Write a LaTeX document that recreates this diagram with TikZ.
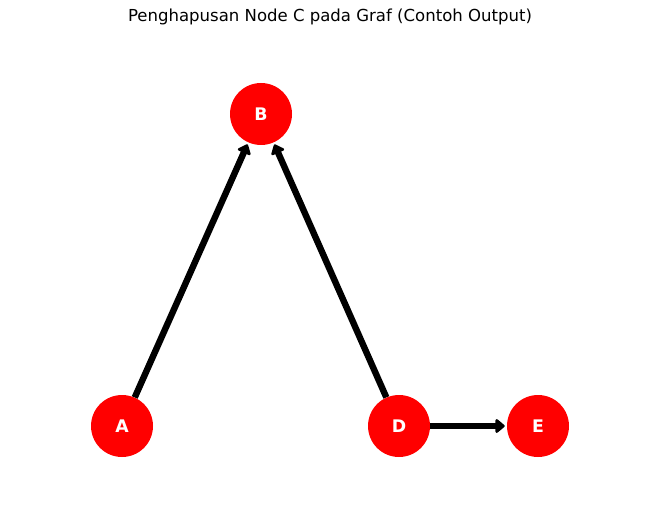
\documentclass[tikz,border=0pt]{standalone}
\usepackage{fontspec}
\setmainfont{DejaVu Sans}
\usepackage{xcolor}
\usetikzlibrary{arrows.meta}

\tikzset{
  vertex/.style = {circle, fill = red, minimum size = 46.5pt, inner sep = 0pt,
                   text = white, font = \bfseries\fontsize{13}{15}\selectfont},
  edge/.style = {line width = 4.8pt, -{Triangle[round, length = 7.5pt, width = 12pt]},
                 shorten > = 1.5pt}
}

\begin{document}
\begin{tikzpicture}[x = 0.75pt, y = -0.75pt]

\useasboundingbox (0,0) rectangle (660,520);

\node[font = \fontsize{12.4}{14}\selectfont] (T) at (330,17) {Penghapusan Node C pada Graf (Contoh Output)};

\node[vertex] (B) at (261,114) {B};
\node[vertex] (A) at (122,426) {A};
\node[vertex] (D) at (399,426) {D};
\node[vertex] (E) at (538,426) {E};

\draw[edge] (A) to (B);
\draw[edge] (D) to (B);
\draw[edge] (D) to (E);

\end{tikzpicture}
\end{document}
